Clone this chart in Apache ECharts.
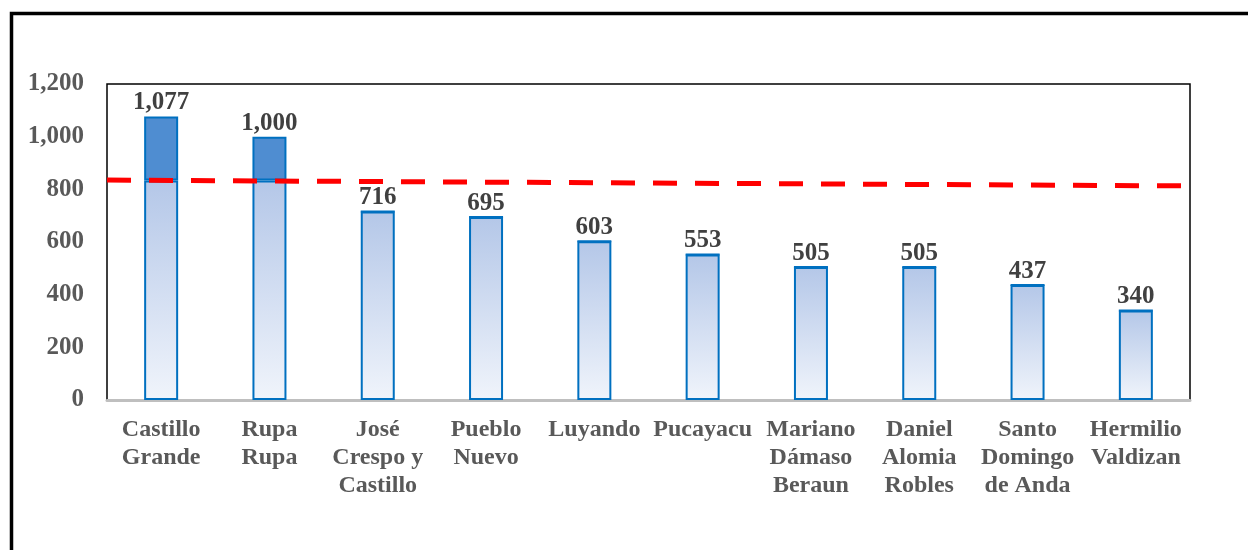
<!DOCTYPE html>
<html>
<head>
<meta charset="utf-8">
<script src="https://cdn.jsdelivr.net/npm/echarts@6/dist/echarts.min.js"></script>
<style>
  html, body { margin: 0; padding: 0; background: #fff; }
  #chart { width: 1248px; height: 550px; }
</style>
</head>
<body>
<div id="chart"></div>
<script>
// datos
const categories = [
  "Castillo\nGrande", "Rupa\nRupa", "José\nCrespo y\nCastillo", "Pueblo\nNuevo",
  "Luyando", "Pucayacu", "Mariano\nDámaso\nBeraun", "Daniel\nAlomia\nRobles",
  "Santo\nDomingo\nde Anda", "Hermilio\nValdizan"
];
const values = [1077, 1000, 716, 695, 603, 553, 505, 505, 437, 340];
const yTicks = [0, 200, 400, 600, 800, 1000, 1200];
// línea discontinua roja (inicio y fin del área de trazado)
const refLine = [[0, 835], [1, 813]];
const cutValue = 834; // donde cambia el color de la barra

const chart = echarts.init(document.getElementById("chart"));

const baseData = values.map((v) => ({
  value: Math.min(v, cutValue),
  label: { show: v <= cutValue },
}));
const topData = values.map((v) => ({
  value: Math.max(0, v - cutValue),
  label: { show: v > cutValue },
}));

const valueLabel = {
  position: "top",
  distance: 1,
  fontFamily: "Liberation Serif",
  fontWeight: "bold",
  fontSize: 25,
  color: "#404040",
  formatter: (p) => values[p.dataIndex].toLocaleString("en-US"),
};

const option = {
  animation: false,
  graphic: [
    {
      type: "rect",
      shape: { x: 11.5, y: 13.5, width: 1300, height: 600 },
      style: { fill: "none", stroke: "#000", lineWidth: 3.5 },
    },
  ],
  grid: {
    left: 107,
    right: 58,
    top: 84,
    bottom: 150,
    show: true,
    borderColor: "#000",
    borderWidth: 1.5,
  },
  xAxis: [
    {
      type: "category",
      data: categories,
      axisTick: { show: false },
      axisLine: { lineStyle: { color: "#bfbfbf", width: 3 } },
      axisLabel: {
        interval: 0,
        margin: 16,
        fontFamily: "Liberation Serif",
        fontWeight: "bold",
        fontSize: 24,
        lineHeight: 28,
        color: "#595959",
      },
    },
    {
      type: "value",
      min: 0,
      max: 1,
      show: false,
    },
  ],
  yAxis: {
    type: "value",
    min: yTicks[0],
    max: yTicks[yTicks.length - 1],
    interval: 200,
    splitLine: { show: false },
    axisLine: { show: false },
    axisTick: { show: false },
    axisLabel: {
      margin: 23,
      padding: [5, 0, 0, 0],
      fontFamily: "Liberation Serif",
      fontWeight: "bold",
      fontSize: 25,
      color: "#595959",
      formatter: (v) => v.toLocaleString("en-US"),
    },
  },
  series: [
    {
      name: "base",
      type: "bar",
      stack: "total",
      barWidth: 34,
      data: baseData,
      itemStyle: {
        color: new echarts.graphic.LinearGradient(0, 0, 0, 1, [
          { offset: 0, color: "#b4c7e8" },
          { offset: 1, color: "#f0f4fb" },
        ]),
        borderColor: "#0070c0",
        borderWidth: 2,
      },
      label: valueLabel,
    },
    {
      name: "exceso",
      type: "bar",
      stack: "total",
      barWidth: 34,
      data: topData,
      itemStyle: {
        color: "#4f8dd1",
        borderColor: "#0070c0",
        borderWidth: 2,
      },
      label: valueLabel,
    },
    {
      name: "referencia",
      type: "line",
      xAxisIndex: 1,
      data: refLine,
      symbol: "none",
      z: 5,
      lineStyle: { color: "#ff0000", width: 5, type: [24, 18] },
    },
  ],
};

chart.setOption(option);
</script>
</body>
</html>
